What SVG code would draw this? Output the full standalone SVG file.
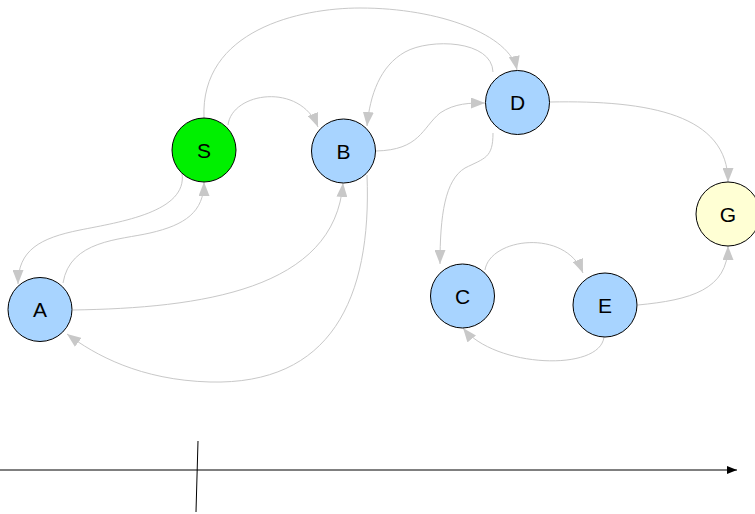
<svg xmlns="http://www.w3.org/2000/svg" width="755" height="514" viewBox="0 0 755 514">
<style>
.e{fill:none;stroke:#c8c8c8;stroke-width:1;marker-end:url(#ah)}
.n{stroke:#000;stroke-width:1}
.b{fill:#a8d4ff}
.t{font-family:"Liberation Sans",Arial,sans-serif;font-size:21px;fill:#000;text-anchor:middle;dominant-baseline:central}
</style>
<defs>
<marker id="ah" markerUnits="userSpaceOnUse" markerWidth="14" markerHeight="11" refX="14" refY="5.5" orient="auto">
<path d="M0,0 L14,5.5 L0,11 z" fill="#c8c8c8"/>
</marker>
<marker id="ak" markerUnits="userSpaceOnUse" markerWidth="10" markerHeight="8" refX="10" refY="4" orient="auto">
<path d="M0,0 L10,4 L0,8 z" fill="#000"/>
</marker>
</defs>
<g id="connectors">
<path class="e" d="M204,118 C200,30 300,8 360,8 C440,8 510,35 517,70"/>
<path class="e" d="M228,125 C232,92 300,82 318,127"/>
<path class="e" d="M493,72 C492,40 430,38 405,52 C380,66 370,95 367,126"/>
<path class="e" d="M376,151 C420,150 422,128 440,113 C455,103 470,103 485,103"/>
<path class="e" d="M493,133 C493,158 485,158 465,168 C445,180 440,215 440,264"/>
<path class="e" d="M485,270 C490,238 565,228 583,273"/>
<path class="e" d="M604,337 C600,372 495,368 463,328"/>
<path class="e" d="M638,305 C690,300 728,290 728,246"/>
<path class="e" d="M550,102 C650,100 728,115 728,182"/>
<path class="e" d="M182,173 C188,212 120,222 80,230 C40,238 18,250 18,284"/>
<path class="e" d="M63,283 C70,240 120,240 150,233 C185,225 204,212 204,182"/>
<path class="e" d="M73,310 C200,308 335,290 343,183"/>
<path class="e" d="M367,175 C372,300 330,385 210,382 C140,380 95,355 67,334"/>
</g>
<g id="axis">
<line x1="0" y1="470" x2="737" y2="470" stroke="#000" stroke-width="1" marker-end="url(#ak)"/>
<line x1="198" y1="441" x2="196" y2="512" stroke="#000" stroke-width="1"/>
</g>
<g id="S"><circle class="n" cx="204" cy="150" r="32" fill="#00f000"/><text class="t" x="204" y="150">S</text></g>
<g id="B"><circle class="n b" cx="343.5" cy="151" r="32"/><text class="t" x="343.5" y="151">B</text></g>
<g id="D"><circle class="n b" cx="517.5" cy="102.5" r="32"/><text class="t" x="517.5" y="102.5">D</text></g>
<g id="A"><circle class="n b" cx="40" cy="309.5" r="32"/><text class="t" x="40" y="309.5">A</text></g>
<g id="C"><circle class="n b" cx="462.5" cy="296" r="32"/><text class="t" x="462.5" y="296">C</text></g>
<g id="E"><circle class="n b" cx="605" cy="305" r="32"/><text class="t" x="605" y="305">E</text></g>
<g id="G"><circle class="n" cx="728" cy="214" r="32" fill="#ffffd4"/><text class="t" x="728" y="214">G</text></g>
</svg>
